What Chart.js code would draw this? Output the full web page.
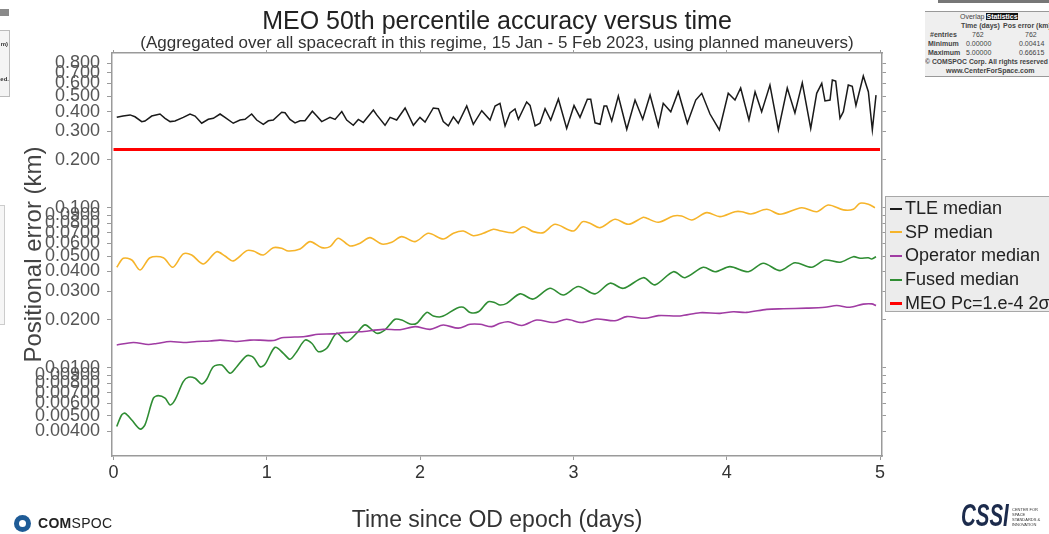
<!DOCTYPE html>
<html><head><meta charset="utf-8">
<script src="https://cdn.jsdelivr.net/npm/chart.js@4.4.1/dist/chart.umd.min.js"></script>
<style>
html,body{margin:0;padding:0;background:#fff;}
#wrap{position:relative;width:1049px;height:534px;overflow:hidden;font-family:"Liberation Sans",Arial,sans-serif;}
#c{position:absolute;left:0;top:0;}
.abs{position:absolute;}
#title{left:0;width:994px;top:6px;text-align:center;font-size:25px;line-height:28px;color:#222;white-space:nowrap;}
#subtitle{left:0;width:994px;top:33px;text-align:center;font-size:17px;line-height:20px;color:#333;white-space:nowrap;}
#legend{left:885px;top:196px;width:180px;height:116px;background:#ececec;border:1px solid #a8a8a8;box-sizing:border-box;}
.li{height:23.6px;display:flex;align-items:center;font-size:18px;color:#222;white-space:nowrap;}
.sw{display:inline-block;width:12px;margin-left:4px;margin-right:3px;}
#stats{left:925px;top:11px;width:130px;height:64px;background:#efefef;border-top:1px solid #999;border-bottom:1px solid #999;font-size:7px;font-weight:bold;color:#444;line-height:8.8px;}
#stats .r{position:absolute;white-space:nowrap;}
</style></head>
<body><div id="wrap">
<canvas id="c" width="1049" height="534"></canvas>
<div id="title" class="abs">MEO 50th percentile accuracy versus time</div>
<div id="subtitle" class="abs">(Aggregated over all spacecraft in this regime, 15 Jan - 5 Feb 2023, using planned maneuvers)</div>
<div id="legend" class="abs"></div>
<div class="abs" style="left:938px;top:0;width:111px;height:3px;background:#777;"></div>
<div id="stats" class="abs">
 <div class="r" style="left:35px;top:1px;font-weight:normal;">Overlap <span style="background:#111;color:#fff;font-weight:bold;">Statistics</span></div>
 <div class="r" style="left:36px;top:10px;">Time (days)</div><div class="r" style="left:78px;top:10px;">Pos error (km)</div>
 <div class="r" style="left:5px;top:19px;">#entries</div><div class="r" style="left:47px;top:19px;font-weight:normal;">762</div><div class="r" style="left:100px;top:19px;font-weight:normal;">762</div>
 <div class="r" style="left:3px;top:28px;">Minimum</div><div class="r" style="left:41px;top:28px;font-weight:normal;">0.00000</div><div class="r" style="left:94px;top:28px;font-weight:normal;">0.00414</div>
 <div class="r" style="left:3px;top:37px;">Maximum</div><div class="r" style="left:41px;top:37px;font-weight:normal;">5.00000</div><div class="r" style="left:94px;top:37px;font-weight:normal;">0.66615</div>
 <div class="r" style="left:0px;top:46px;font-size:6.8px;">© COMSPOC Corp. All rights reserved</div>
 <div class="r" style="left:21px;top:55px;">www.CenterForSpace.com</div>
</div>
<div class="abs" style="left:0;top:9px;width:9px;height:7px;background:#8a8a8a;"></div>
<div class="abs" style="left:-2px;top:30px;width:10px;height:65px;border:1px solid #bbb;background:#f4f4f4;font-size:6px;font-weight:bold;color:#333;">
 <div style="position:absolute;top:10px;right:1px;">m)</div><div style="position:absolute;top:45px;right:0px;">ed.</div></div>
<div class="abs" style="left:-2px;top:205px;width:5px;height:118px;border:1px solid #ccc;background:#f6f6f6;"></div>
<div class="abs" style="left:14px;top:515px;width:17px;height:17px;border-radius:50%;background:#1e5b96;"></div>
<div class="abs" style="left:19px;top:520px;width:7px;height:7px;border-radius:50%;background:#fff;"></div>
<div class="abs" style="left:38px;top:515px;font-size:14px;line-height:17px;color:#222;letter-spacing:0.3px;"><b>COM</b>SPOC</div>
<div class="abs" style="left:961px;top:500px;font-size:31px;line-height:32px;font-weight:bold;font-style:italic;color:#1c2b4c;transform:scaleX(0.66);transform-origin:left top;">CSSI</div>
<div class="abs" style="left:1012px;top:507px;font-size:4px;line-height:5px;color:#333;">CENTER FOR<br>SPACE<br>STANDARDS &amp;<br>INNOVATION</div>
</div>
<script>
const xTicks = [0, 1, 2, 3, 4, 5];
const yTicks = [0.8,0.7,0.6,0.5,0.4,0.3,0.2,0.1,0.09,0.08,0.07,0.06,0.05,0.04,0.03,0.02,0.01,0.009,0.008,0.007,0.006,0.005,0.004];

const tleX = [0.021,0.062,0.108,0.140,0.184,0.205,0.249,0.303,0.336,0.369,0.401,0.455,0.499,0.532,0.575,0.618,0.651,0.695,0.727,0.781,0.825,0.858,0.901,0.934,0.977,1.010,1.042,1.097,1.119,1.151,1.184,1.217,1.249,1.297,1.326,1.358,1.412,1.445,1.489,1.521,1.564,1.597,1.629,1.695,1.717,1.771,1.804,1.847,1.902,1.956,1.999,2.032,2.086,2.119,2.151,2.184,2.217,2.249,2.304,2.347,2.402,2.456,2.489,2.521,2.554,2.586,2.619,2.641,2.695,2.717,2.750,2.782,2.815,2.852,2.902,2.956,3.004,3.043,3.091,3.113,3.141,3.174,3.200,3.217,3.250,3.293,3.348,3.402,3.452,3.500,3.554,3.586,3.635,3.684,3.743,3.798,3.837,3.891,3.952,4.010,4.054,4.091,4.145,4.185,4.228,4.282,4.337,4.395,4.445,4.493,4.548,4.587,4.620,4.641,4.674,4.689,4.711,4.739,4.761,4.793,4.819,4.843,4.891,4.924,4.950,4.974];
const tleY = [0.368,0.375,0.381,0.371,0.346,0.349,0.375,0.386,0.363,0.346,0.349,0.368,0.386,0.375,0.338,0.358,0.363,0.386,0.368,0.338,0.354,0.358,0.386,0.354,0.333,0.350,0.354,0.396,0.393,0.357,0.340,0.350,0.350,0.402,0.375,0.346,0.368,0.357,0.400,0.354,0.328,0.357,0.342,0.409,0.381,0.328,0.368,0.354,0.421,0.328,0.368,0.344,0.421,0.417,0.346,0.326,0.371,0.338,0.433,0.333,0.405,0.354,0.433,0.450,0.325,0.392,0.415,0.358,0.459,0.437,0.325,0.338,0.417,0.354,0.479,0.314,0.436,0.368,0.477,0.477,0.340,0.333,0.433,0.433,0.349,0.500,0.310,0.472,0.358,0.507,0.325,0.450,0.399,0.532,0.338,0.472,0.520,0.386,0.307,0.520,0.472,0.561,0.354,0.532,0.399,0.586,0.307,0.561,0.392,0.605,0.314,0.520,0.600,0.466,0.472,0.630,0.620,0.363,0.399,0.586,0.575,0.436,0.667,0.532,0.307,0.507];

const spX = [0.021,0.064,0.119,0.173,0.238,0.325,0.386,0.455,0.510,0.586,0.673,0.727,0.781,0.869,0.912,0.977,1.042,1.097,1.140,1.217,1.282,1.358,1.412,1.466,1.543,1.608,1.673,1.750,1.815,1.880,1.967,2.054,2.151,2.217,2.282,2.347,2.412,2.478,2.521,2.608,2.673,2.738,2.804,2.880,2.999,3.061,3.108,3.174,3.271,3.358,3.456,3.478,3.554,3.652,3.706,3.772,3.870,3.956,4.054,4.098,4.157,4.261,4.348,4.489,4.587,4.663,4.761,4.826,4.870,4.924,4.967];
const spY = [0.0425,0.0484,0.0472,0.0409,0.0488,0.0488,0.0425,0.0515,0.0507,0.0446,0.0532,0.0500,0.0466,0.0540,0.0537,0.0507,0.0564,0.0559,0.0537,0.0553,0.0615,0.0564,0.0572,0.0646,0.0578,0.0601,0.0651,0.0594,0.0610,0.0661,0.0615,0.0693,0.0638,0.0693,0.0716,0.0670,0.0693,0.0735,0.0720,0.0700,0.0762,0.0710,0.0700,0.0789,0.0716,0.0820,0.0801,0.0752,0.0848,0.0789,0.0873,0.0861,0.0813,0.0889,0.0889,0.0840,0.0933,0.0881,0.0946,0.0946,0.0916,0.0980,0.0912,0.1002,0.0946,0.1042,0.0971,0.0980,0.1068,0.1052,0.1002];

const opX = [0.021,0.129,0.227,0.282,0.369,0.455,0.543,0.629,0.695,0.804,0.890,0.956,1.042,1.097,1.249,1.336,1.434,1.499,1.608,1.760,1.869,1.967,2.065,2.151,2.249,2.326,2.391,2.467,2.521,2.575,2.663,2.761,2.869,2.956,3.054,3.152,3.271,3.348,3.467,3.554,3.695,3.826,3.956,4.043,4.130,4.261,4.369,4.522,4.641,4.718,4.804,4.891,4.946,4.974];
const opY = [0.0139,0.0144,0.0140,0.0142,0.0146,0.0144,0.0146,0.0147,0.0149,0.0146,0.0149,0.0149,0.0148,0.0154,0.0157,0.0162,0.0163,0.0166,0.0168,0.0174,0.0173,0.0181,0.0174,0.0185,0.0177,0.0187,0.0187,0.0181,0.0190,0.0194,0.0184,0.0199,0.0192,0.0201,0.0192,0.0202,0.0197,0.0209,0.0204,0.0212,0.0211,0.0221,0.0219,0.0224,0.0222,0.0232,0.0234,0.0236,0.0239,0.0245,0.0239,0.0250,0.0251,0.0245];

const fuX = [0.021,0.053,0.075,0.119,0.173,0.205,0.260,0.292,0.336,0.369,0.401,0.455,0.488,0.532,0.575,0.608,0.651,0.706,0.760,0.804,0.869,0.912,0.956,0.988,1.054,1.108,1.151,1.195,1.249,1.293,1.336,1.391,1.456,1.521,1.586,1.641,1.717,1.771,1.836,1.880,1.934,1.978,2.043,2.086,2.141,2.239,2.282,2.326,2.380,2.445,2.489,2.521,2.565,2.652,2.738,2.847,2.934,3.032,3.141,3.239,3.326,3.456,3.532,3.652,3.728,3.847,3.924,4.021,4.141,4.239,4.348,4.445,4.554,4.641,4.739,4.826,4.870,4.924,4.946,4.974];
const fuY = [0.0043,0.00507,0.0052,0.00472,0.00414,0.0044,0.00646,0.0067,0.00646,0.00586,0.0063,0.0082,0.00873,0.0086,0.00793,0.00848,0.01016,0.0104,0.00925,0.01016,0.0119,0.01164,0.01016,0.01052,0.01344,0.01233,0.01131,0.01262,0.0149,0.01424,0.01262,0.01325,0.01644,0.01458,0.01644,0.01854,0.01644,0.01726,0.0201,0.0199,0.0188,0.0190,0.0222,0.0211,0.0209,0.0236,0.0239,0.0222,0.0224,0.0259,0.0255,0.0247,0.0253,0.0290,0.0269,0.0314,0.0285,0.0322,0.0290,0.0338,0.0314,0.0366,0.0330,0.0399,0.0366,0.0425,0.0399,0.0429,0.0399,0.0450,0.0405,0.0454,0.0425,0.0472,0.0457,0.0495,0.0484,0.0488,0.0479,0.0495];

const meoX = [0, 5];
const meoY = [0.232, 0.232];

const seriesNames = ['TLE median','SP median','Operator median','Fused median','MEO Pc=1.e-4 2σ'];
const seriesColors = ['#1a1a1a','#f6b42a','#a03ca3','#2f8d33','#ff0000'];

function pts(xs, ys){ return xs.map((x,i)=>({x:x, y:ys[i]})); }

const datasets = [
  {label:seriesNames[0], data:pts(tleX,tleY), borderColor:seriesColors[0], borderWidth:1.5, tension:0},
  {label:seriesNames[1], data:pts(spX,spY), borderColor:seriesColors[1], borderWidth:1.6, tension:0.3},
  {label:seriesNames[2], data:pts(opX,opY), borderColor:seriesColors[2], borderWidth:1.6, tension:0.3},
  {label:seriesNames[3], data:pts(fuX,fuY), borderColor:seriesColors[3], borderWidth:1.6, tension:0.3},
  {label:seriesNames[4], data:pts(meoX,meoY), borderColor:seriesColors[4], borderWidth:3, tension:0}
];
datasets.forEach(d=>{d.pointRadius=0; d.fill=false; d.backgroundColor=d.borderColor;});

const FONT = '"Liberation Sans", Arial, sans-serif';
const axisGray = '#9a9a9a';

function setTicks(vals){ return function(scale){ scale.ticks = vals.map(v=>({value:v})); }; }

new Chart(document.getElementById('c'), {
  type:'line',
  data:{datasets:datasets},
  options:{
    responsive:false, animation:false,
    layout:{padding:{left:0, right:162, top:53, bottom:0}},
    plugins:{legend:{display:false}, tooltip:{enabled:false}},
    scales:{
      x:{type:'linear', position:'bottom', min:-0.01, max:5.013,
        afterBuildTicks:setTicks(xTicks),
        afterFit:s=>{s.height=78;},
        ticks:{autoSkip:false, maxRotation:0, padding:2, color:'#333', font:{family:FONT,size:18}, callback:v=>String(v)},
        grid:{drawOnChartArea:false, tickLength:4, color:axisGray},
        border:{display:true, color:axisGray, width:1.5},
        title:{display:true, text:'Time since OD epoch (days)', color:'#333', font:{family:FONT,size:23}, padding:{top:0,bottom:0}}
      },
      x2:{type:'linear', position:'top', min:-0.01, max:5.013,
        afterBuildTicks:setTicks(xTicks),
        afterFit:s=>{s.height=0;},
        ticks:{display:false},
        grid:{drawOnChartArea:false, tickLength:3, color:axisGray},
        border:{display:true, color:axisGray, width:1.5}
      },
      y:{type:'logarithmic', position:'left', min:0.00281, max:0.929,
        afterBuildTicks:setTicks(yTicks),
        afterFit:s=>{s.width=112;},
        ticks:{autoSkip:false, padding:7, color:'#555', font:{family:FONT,size:18}, callback:v=>Number(v).toPrecision(3)},
        grid:{drawOnChartArea:false, tickLength:5, color:axisGray},
        border:{display:true, color:axisGray, width:1.5},
        title:{display:true, text:'Positional error (km)', color:'#444', font:{family:FONT,size:24}, padding:{top:20,bottom:0}}
      },
      y2:{type:'logarithmic', position:'right', min:0.00281, max:0.929,
        afterBuildTicks:setTicks(yTicks),
        afterFit:s=>{s.width=5;},
        ticks:{display:false},
        grid:{drawOnChartArea:false, tickLength:4, color:axisGray},
        border:{display:true, color:axisGray, width:1.5}
      }
    }
  }
});

const lg = document.getElementById('legend');
seriesNames.forEach((n,i)=>{
  const row = document.createElement('div'); row.className='li';
  const sw = document.createElement('span'); sw.className='sw';
  sw.style.height = (i===4?3:2)+'px'; sw.style.background = seriesColors[i];
  row.appendChild(sw); row.appendChild(document.createTextNode(n));
  lg.appendChild(row);
});
</script>
</body></html>
